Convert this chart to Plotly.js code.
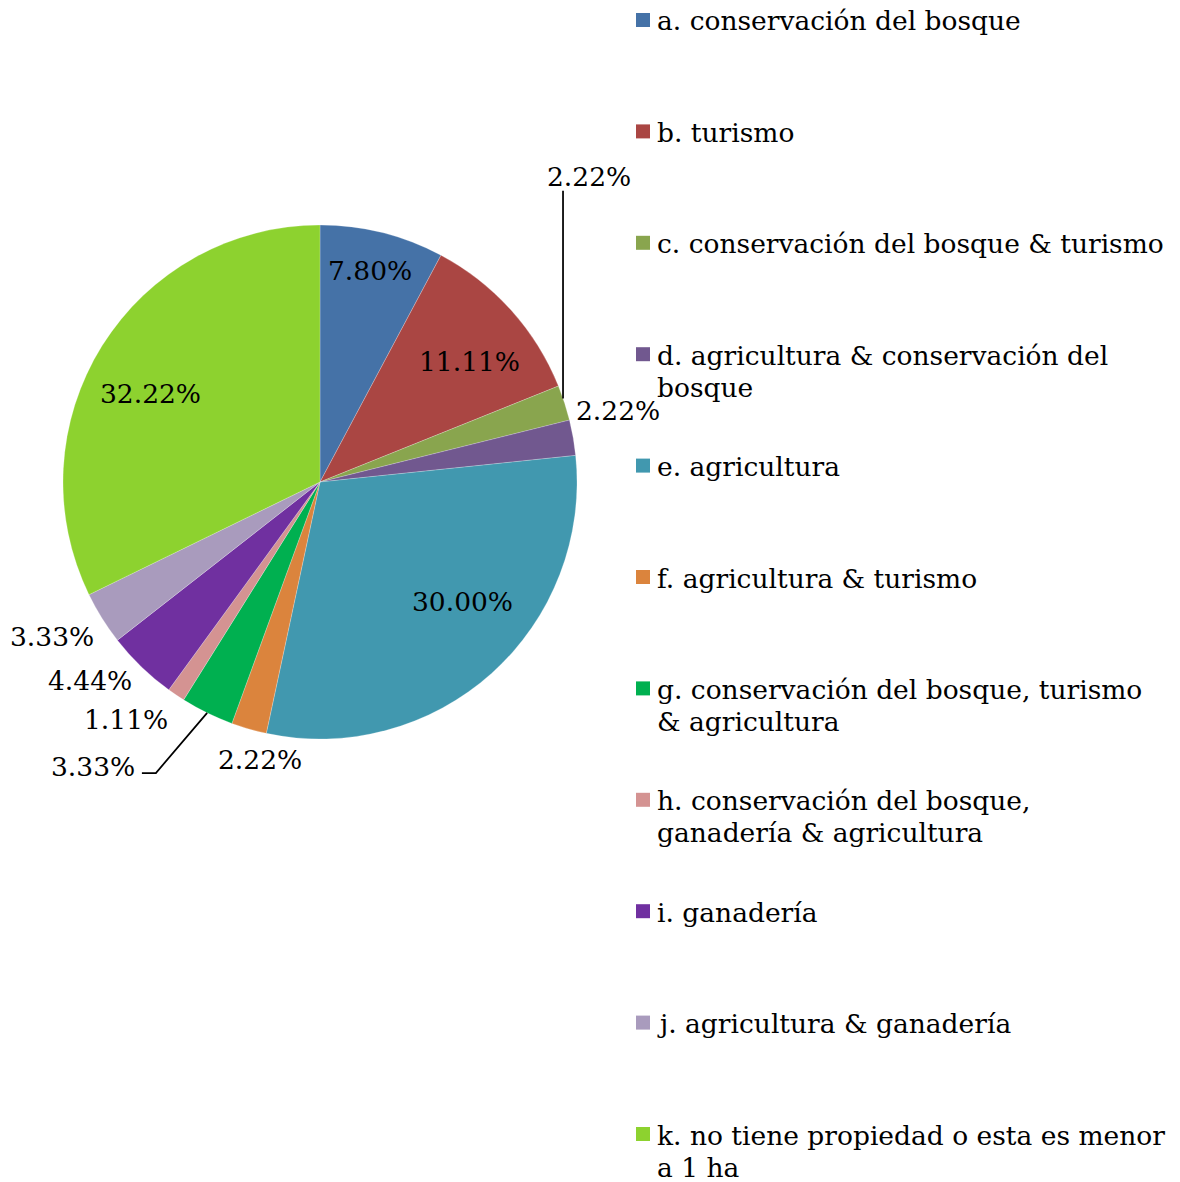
<!DOCTYPE html>
<html><head><meta charset="utf-8">
<script src="https://cdn.plot.ly/plotly-3.0.1.min.js"></script>
<style>html,body{margin:0;padding:0;background:#fff}</style>
</head><body>
<div id="chart" style="width:1180px;height:1182px"></div>
<script>
// ---- data ----
const categories = [
  "a. conservación del bosque",
  "b. turismo",
  "c. conservación del bosque & turismo",
  "d. agricultura & conservación del<br>bosque",
  "e. agricultura",
  "f. agricultura & turismo",
  "g. conservación del bosque, turismo<br>& agricultura",
  "h. conservación del bosque,<br>ganadería & agricultura",
  "i. ganadería",
  "j. agricultura & ganadería",
  "k. no tiene propiedad o esta es menor<br>a 1 ha"
];
const percentages = [7.80, 11.11, 2.22, 2.22, 30.00, 2.22, 3.33, 1.11, 4.44, 3.33, 32.22];

// ---- style ----
const colors = ["#4572A7", "#AA4643", "#89A54E", "#71588F", "#4198AF", "#DB843D",
                "#00B050", "#D49392", "#7030A0", "#A99BBD", "#8DD22F"];
// label placement: radius as fraction of pie radius, angular shift (deg) from slice middle
const labelRadius = [0.844, 0.747, 1.583, 1.191, 0.723, 1.105, 1.415, 1.195, 1.183, 1.206, 0.745];
const labelShift  = [-0.7, 3.2, -30.7, -3.5, -7.9, -3.9, 12.6, 5.2, 5.1, 2.0, -4.6];
const leaderType  = [null, null, "vertical", null, null, null, "elbow", null, null, null, null];

const W = 1180, H = 1182;
const CX = 320, CY = 482, R = 257;
const FONT = "DejaVu Serif";
const FS = 26.5;
const px = x => x / W;
const py = y => 1 - y / H;

const total = percentages.reduce((s, v) => s + v, 0);
const annotations = [];
const shapes = [];
let cum = 0;
percentages.forEach((v, i) => {
  const midDeg = (cum + v / 2) / total * 360;
  cum += v;
  const a = (midDeg + labelShift[i]) * Math.PI / 180;
  const lx = CX + R * labelRadius[i] * Math.sin(a);
  const ly = CY - R * labelRadius[i] * Math.cos(a);
  annotations.push({
    xref: "paper", yref: "paper", x: px(lx), y: py(ly),
    xanchor: "center", yanchor: "middle", showarrow: false,
    text: v.toFixed(2) + "%",
    font: {family: FONT, size: FS, color: "#000"}
  });
  const m = midDeg * Math.PI / 180;
  const ex = CX + R * Math.sin(m), ey = CY - R * Math.cos(m);
  if (leaderType[i] === "vertical") {
    const x = ex - 1.5;
    const yb = CY - Math.sqrt(R * R - (x - CX) * (x - CX));
    shapes.push({type: "line", xref: "paper", yref: "paper",
      x0: px(x), y0: py(ly + 14), x1: px(x), y1: py(yb),
      line: {color: "#000", width: 1.75}});
  } else if (leaderType[i] === "elbow") {
    shapes.push({type: "path", xref: "paper", yref: "paper",
      path: `M ${px(ex)} ${py(ey)} L ${px(lx + 63)} ${py(ly + 7)} L ${px(lx + 49)} ${py(ly + 7)}`,
      line: {color: "#000", width: 1.75}});
  }
});

// custom legend
const LEG_X = 636, LEG_Y0 = 20, LEG_STEP = 111.4, LINE_STEP = 32, SQ = 14;
categories.forEach((c, i) => {
  const rowY = LEG_Y0 + i * LEG_STEP;
  shapes.push({type: "rect", xref: "paper", yref: "paper",
    x0: px(LEG_X), x1: px(LEG_X + SQ), y0: py(rowY - SQ / 2), y1: py(rowY + SQ / 2),
    fillcolor: colors[i], line: {width: 0}});
  c.split("<br>").forEach((line, j) => {
    annotations.push({
      xref: "paper", yref: "paper", x: px(LEG_X + 19), y: py(rowY + 1 + j * LINE_STEP),
      xanchor: "left", yanchor: "middle", showarrow: false,
      text: line, font: {family: FONT, size: FS, color: "#000"}
    });
  });
});

const trace = {
  type: "pie",
  labels: categories,
  values: percentages,
  sort: false,
  direction: "clockwise",
  rotation: 0,
  textinfo: "none",
  hoverinfo: "label+percent",
  marker: {colors: colors, line: {color: "rgba(255,255,255,0.45)", width: 0.5}},
  domain: {x: [px(CX - R), px(CX + R)], y: [py(CY + R), py(CY - R)]},
  showlegend: false
};

const layout = {
  width: W, height: H,
  margin: {l: 0, r: 0, t: 0, b: 0},
  paper_bgcolor: "#fff",
  showlegend: false,
  annotations: annotations,
  shapes: shapes,
  font: {family: FONT}
};

Plotly.newPlot("chart", [trace], layout, {displayModeBar: false, staticPlot: true});
</script>
</body></html>
